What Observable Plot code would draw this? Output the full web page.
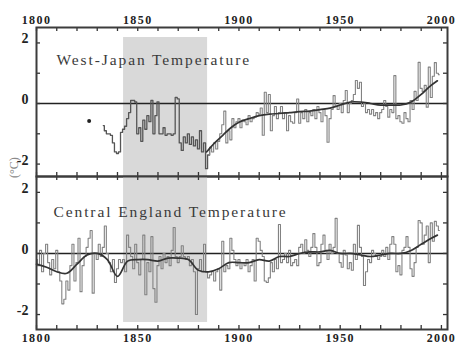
<!DOCTYPE html>
<html><head><meta charset="utf-8">
<script src="https://cdn.jsdelivr.net/npm/d3@7"></script>
<script src="https://cdn.jsdelivr.net/npm/@observablehq/plot@0.6"></script>
<style>
html,body{margin:0;padding:0;background:#fff;}
#wrap{position:relative;width:458px;height:353px;overflow:hidden;}
#wrap svg{position:absolute;left:0;overflow:visible;}
#wrap svg text{font-family:"Liberation Serif","Times New Roman",serif;}
#unit{position:absolute;left:4px;top:158px;width:20px;height:20px;font-family:"Liberation Serif",serif;font-size:12px;color:#8a8a8a;transform:rotate(-90deg);transform-origin:center;white-space:nowrap;text-align:center;line-height:20px;}
</style></head><body><div id="wrap"><div id="unit">(°C)</div></div>
<script>
// ---------- data ----------
const axisYears = [1800, 1850, 1900, 1950, 2000];
const decadeTicks = [1800,1810,1820,1830,1840,1850,1860,1870,1880,1890,1900,1910,1920,1930,1940,1950,1960,1970,1980,1990,2000];
const yTickLabels = [-2, 0, 2];
const yTicks = [-2, -1, 0, 1, 2];
const shadeYears = [1843, 1884.5];

const japanTitle = "West-Japan Temperature";
const englandTitle = "Central England Temperature";

// isolated early West-Japan estimate
const japanDotYear = [1826];
const japanDotValue = [-0.58];

// West-Japan annual anomalies 1833-1999
const japanStart = 1833;
const japanValues = [
  -0.73,-0.9,-1.0,-1.0,-1.05,-1.3,-1.6,           // 1833-1839
  -1.65,-1.6,-0.95,-0.85,-0.75,-0.5,-0.3,0.1,0.1,0.05, // 1840-1849
  -1.0,-0.8,-1.25,-0.55,-0.85,-0.4,-0.6,0.1,-1.0,-0.4, // 1850s
  0.05,-1.0,-1.0,-0.8,-1.05,-1.0,-1.0,-1.05,-1.0,0.2,  // 1860s
  0.15,-1.3,-1.55,-1.1,-1.3,-1.0,-1.35,-1.1,-1.4,-1.2, // 1870s
  -1.5,-0.9,-1.6,-1.3,-2.15,-1.7,-1.45,-1.6,-1.3,-1.5, // 1880s
  -1.25,-1.0,-0.7,-0.25,-1.3,-0.9,-1.2,-0.5,-0.8,-0.6, // 1890s
  -0.5,-0.8,-0.55,-0.6,-0.7,-0.4,-0.6,-0.5,-0.45,-0.3, // 1900s
  -0.35,-0.15,-1.05,0.37,-0.3,0.3,-0.9,-0.4,-0.1,-0.5, // 1910s
  -0.3,-0.1,-0.5,-0.3,-0.9,-0.4,-0.6,-0.65,-0.3,0.15,  // 1920s
  -0.65,-0.3,-0.5,-0.2,-0.6,-0.3,-0.4,-0.2,-0.5,-0.1,  // 1930s
  -0.3,-0.6,-0.2,-0.4,-1.28,-0.5,-0.2,0.26,-0.1,-0.2,  // 1940s
  0.0,-0.3,0.1,0.43,-0.3,0.0,0.1,0.3,0.76,0.5,         // 1950s
  0.7,-0.1,0.0,-0.3,-0.2,-0.35,-0.2,-0.4,-0.3,-0.5,    // 1960s
  -0.3,-0.2,0.1,-0.1,-0.45,-0.2,-0.3,0.92,-0.5,-0.4,   // 1970s
  -0.6,-0.65,-0.3,-0.5,-0.6,0.1,-0.2,0.4,0.1,1.36,     // 1980s
  0.5,0.4,0.6,-0.12,1.2,0.2,0.9,1.35,1.0,0.95          // 1990s
];
const japanSmoothYears  = [1884,1888,1892,1896,1900,1905,1910,1915,1920,1925,1930,1935,1940,1945,1950,1955,1960,1965,1970,1975,1980,1985,1990,1994,1998];
const japanSmoothValues = [-1.6,-1.3,-1.05,-0.8,-0.62,-0.5,-0.4,-0.35,-0.33,-0.3,-0.27,-0.25,-0.2,-0.15,-0.05,0.05,0.05,0.0,-0.05,-0.05,-0.05,0.05,0.3,0.55,0.75];

// Central England annual anomalies 1800-1999
const englandStart = 1800;
const englandValues = [
  -0.2,-0.4,0.1,-0.6,0.0,0.3,-0.3,-0.7,-0.2,-0.5,      // 1800s
  0.1,-0.6,-0.9,-1.65,-1.5,-0.9,-1.2,-0.4,0.3,-0.9,    // 1810s
  -0.3,0.5,-1.25,-0.4,-0.1,0.2,0.5,0.75,-1.3,0.0,      // 1820s
  -0.2,0.3,-0.1,0.2,0.9,0.0,-0.3,-0.6,-0.2,-0.95,      // 1830s
  -0.5,-0.2,-0.3,-0.2,-0.6,0.6,0.2,-0.1,-0.5,0.3,      // 1840s
  -0.3,-0.7,-0.2,0.6,-1.35,-0.3,-0.6,0.55,-1.15,-1.6,  // 1850s
  -0.4,-0.1,-0.5,0.0,-0.3,-0.1,-0.4,0.1,0.85,-0.1,     // 1860s
  -0.3,-0.1,0.25,-0.1,-0.2,-0.1,-0.4,-0.2,-0.6,-2.0,   // 1870s
  -0.5,-0.2,-0.6,0.3,-0.6,-0.8,-0.7,-0.6,-0.9,-0.6,    // 1880s
  -0.5,-1.2,0.4,-0.6,-0.4,-0.5,0.5,0.1,-0.2,-0.4,      // 1890s
  -0.2,-0.5,-0.3,-0.4,-0.2,-0.6,-0.4,-0.2,-0.9,0.5,    // 1900s
  0.4,0.1,-0.1,-0.9,-0.95,-0.8,-0.3,-0.6,-0.2,-0.5,    // 1910s
  0.95,-0.3,-0.2,0.0,-0.3,0.1,-0.4,-0.3,-0.2,-0.4,     // 1920s
  0.2,0.3,0.0,0.45,0.1,-0.1,0.2,0.65,0.2,-0.4,         // 1930s
  -0.3,0.3,0.6,0.1,-0.2,0.3,0.0,0.2,1.15,0.0,          // 1940s
  -0.3,-0.45,0.1,-0.05,-0.5,-0.3,-0.55,0.3,-0.2,0.92,  // 1950s
  0.2,-0.1,-1.05,-0.6,-0.2,-0.3,0.1,0.0,-0.1,-0.2,     // 1960s
  -0.1,0.1,-0.1,0.2,-0.2,0.3,0.55,0.3,-0.6,-0.4,       // 1970s
  -0.7,0.1,0.2,0.55,0.2,-0.5,-0.75,-0.3,0.2,1.08,      // 1980s
  1.0,0.3,0.6,0.9,-0.3,1.0,0.4,1.05,0.9,0.75           // 1990s
];
const englandSmoothYears  = [1800,1805,1810,1815,1820,1825,1830,1835,1840,1845,1850,1855,1860,1865,1870,1875,1880,1885,1890,1895,1900,1905,1910,1915,1920,1925,1930,1935,1940,1945,1950,1955,1960,1965,1970,1975,1980,1985,1990,1995,1998];
const englandSmoothValues = [-0.35,-0.45,-0.6,-0.65,-0.35,-0.05,0.0,-0.2,-0.75,-0.25,-0.2,-0.2,-0.25,-0.15,-0.15,-0.2,-0.55,-0.6,-0.5,-0.3,-0.3,-0.3,-0.2,-0.25,-0.1,-0.1,0.0,0.05,0.05,0.1,0.0,0.0,-0.05,-0.1,-0.05,0.0,0.0,0.1,0.3,0.5,0.6];

// ---------- tables ----------
const japan = japanValues.map((v, i) => ({year: japanStart + i, v}));
const england = englandValues.map((v, i) => ({year: englandStart + i, v}));
const japanSmooth = japanSmoothYears.map((year, i) => ({year, v: japanSmoothValues[i]}));
const englandSmooth = englandSmoothYears.map((year, i) => ({year, v: englandSmoothValues[i]}));
const japanDot = japanDotYear.map((year, i) => ({year, v: japanDotValue[i]}));

// ---------- layout ----------
const W = 458;
const ML = 36, MR = 11;
const FW = W - ML - MR;
const serif = "Liberation Serif";
const xDomain = [1800, 2003];

function panel({height, marginTop, marginBottom, yDomain, shadeY, series, early, smooth, dot, title, titleDx, titleDy, labelsAt}) {
  const FH = height - marginTop - marginBottom;
  const marks = [
    Plot.rect([shadeYears], {x1: d => d[0], x2: d => d[1], y1: shadeY[0], y2: shadeY[1], fill: "#d9d9d9"}),
    Plot.text([title], {frameAnchor: "top-left", dx: titleDx, dy: titleDy, text: d => d, textAnchor: "start", fontFamily: serif, fontSize: 15.5, fill: "#3a3a3a"}),
    Plot.ruleY([0], {stroke: "#222", strokeWidth: 1.6}),
  ];
  if (early) marks.push(Plot.line(early, {x: "year", y: "v", curve: "step", stroke: "#555", strokeWidth: 1.3}));
  marks.push(Plot.line(series, {x: "year", y: "v", curve: "step", stroke: "#828282", strokeWidth: 1.1}));
  marks.push(Plot.line(smooth, {x: "year", y: "v", curve: "catmull-rom", stroke: "#333", strokeWidth: 1.7}));
  if (dot) marks.push(Plot.dot(dot, {x: "year", y: "v", r: 2, fill: "#222", stroke: null}));
  marks.push(
    Plot.tickX(decadeTicks, {x: d => d, insetBottom: FH - 4, stroke: "#333", strokeWidth: 1.3}),
    Plot.tickX(decadeTicks, {x: d => d, insetTop: FH - 4, stroke: "#333", strokeWidth: 1.3}),
    Plot.tickY(yTicks, {y: d => d, insetRight: FW - 4, stroke: "#333", strokeWidth: 1.3}),
    Plot.tickY(yTicks, {y: d => d, insetLeft: FW - 4, stroke: "#333", strokeWidth: 1.3}),
    Plot.text(yTickLabels, {y: d => d, text: d => String(d), frameAnchor: "left", dx: -8, dy: -4, textAnchor: "end", fontFamily: serif, fontSize: 14, fontWeight: "bold", fill: "#222"}),
    Plot.text(axisYears, {x: d => d, text: d => String(d), frameAnchor: labelsAt, dy: labelsAt === "top" ? -12 : 12, fontFamily: serif, fontSize: 12, fontWeight: "bold", fill: "#222"}),
    Plot.frame({stroke: "#3c3c3c", strokeWidth: 2})
  );
  const svg = Plot.plot({
    width: W, height, marginTop, marginBottom, marginLeft: ML, marginRight: MR,
    x: {domain: xDomain, axis: null},
    y: {domain: yDomain, axis: null},
    style: {background: "transparent", overflow: "visible"},
    marks
  });
  d3.select(svg).selectAll("text").each(function() {
    const t = this.textContent;
    if (t === title) this.setAttribute("letter-spacing", "1.9");
    else if (/^\d{4}$/.test(t)) this.setAttribute("letter-spacing", "1.4");
  });
  return svg;
}

const topPanel = panel({
  height: 176, marginTop: 27, marginBottom: 0,
  yDomain: [-2.41, 2.51], shadeY: [-2.41, 2.18],
  early: japan.filter(d => d.year <= 1886),
  series: japan.filter(d => d.year >= 1885),
  smooth: japanSmooth, dot: japanDot,
  title: japanTitle, titleDx: 20, titleDy: 26, labelsAt: "top"
});
const bottomPanel = panel({
  height: 177, marginTop: 0, marginBottom: 24,
  yDomain: [-2.49, 2.52], shadeY: [-2.26, 2.52],
  series: england, smooth: englandSmooth,
  title: englandTitle, titleDx: 17, titleDy: 29, labelsAt: "bottom"
});
topPanel.style.top = "0px";
bottomPanel.style.top = "176px";
const wrap = document.getElementById("wrap");
wrap.appendChild(topPanel);
wrap.appendChild(bottomPanel);
</script>
</body></html>
